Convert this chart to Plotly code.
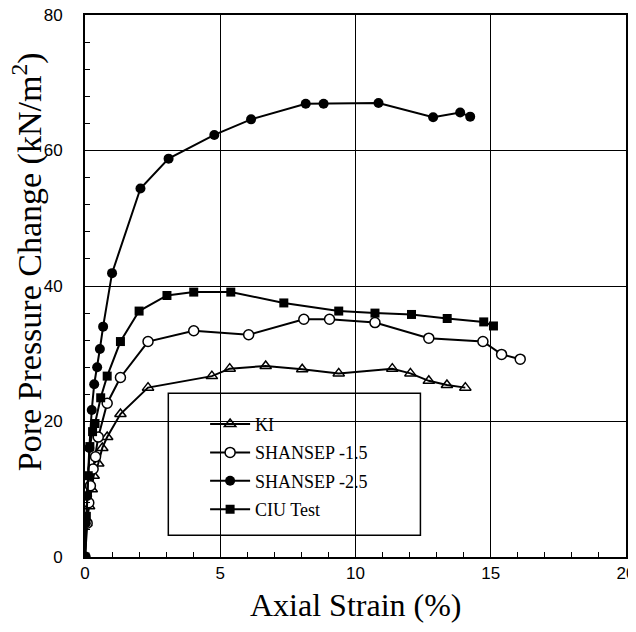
import plotly.graph_objects as go

ki_x = [0, 0.05, 0.15, 0.25, 0.32, 0.49, 0.64, 0.82, 1.31, 2.33, 4.69, 5.35, 6.68, 8.03, 9.38, 11.36, 12.03, 12.71, 13.38, 14.06]
ki_y = [0, 5, 7.5, 10, 12, 13.8, 16.1, 17.7, 21.1, 25.0, 26.7, 27.8, 28.2, 27.7, 27.1, 27.8, 27.1, 26.0, 25.4, 25.0]

s15_x = [0, 0.08, 0.14, 0.2, 0.3, 0.39, 0.49, 0.82, 1.31, 2.33, 4.02, 6.05, 8.09, 9.04, 10.72, 12.71, 14.71, 15.4, 16.09]
s15_y = [0, 5, 8, 10.5, 13, 14.8, 17.7, 22.7, 26.5, 31.8, 33.4, 32.8, 35.1, 35.1, 34.6, 32.3, 31.8, 29.9, 29.2]

s25_x = [0, 0.03, 0.08, 0.16, 0.25, 0.34, 0.45, 0.55, 0.67, 1.0, 2.05, 3.09, 4.78, 6.14, 8.16, 8.82, 10.85, 12.87, 13.87, 14.24]
s25_y = [0, 5, 9, 16.1, 21.7, 25.5, 28, 30.7, 34.0, 41.9, 54.4, 58.8, 62.3, 64.6, 66.9, 66.9, 67.0, 64.9, 65.6, 65.0]

ciu_x = [0, 0.05, 0.12, 0.18, 0.28, 0.37, 0.58, 0.82, 1.31, 2.0, 3.03, 4.02, 5.39, 7.35, 9.38, 10.72, 12.07, 13.39, 14.74, 15.1]
ciu_y = [0, 6, 12, 16.3, 18.5, 19.7, 23.5, 26.7, 31.8, 36.3, 38.6, 39.1, 39.1, 37.5, 36.3, 36.0, 35.8, 35.2, 34.7, 34.1]

names = ["KI", "SHANSEP -1.5", "SHANSEP -2.5", "CIU Test"]
x_title = "Axial Strain (%)"
y_title = "Pore Pressure Change (kN/m<sup>2</sup>)"

fig = go.Figure()
line = dict(color="black", width=2)
fig.add_trace(go.Scatter(x=ki_x, y=ki_y, name=names[0], legendgroup="a", mode="lines+markers", line=line,
                         marker=dict(symbol="triangle-up-open", size=10, color="black", line=dict(width=1.5))))
fig.add_trace(go.Scatter(x=s15_x, y=s15_y, name=names[1], legendgroup="b", mode="lines+markers", line=line,
                         marker=dict(symbol="circle", size=10, color="white", line=dict(color="black", width=1.5))))
fig.add_trace(go.Scatter(x=s25_x, y=s25_y, name=names[2], legendgroup="c", mode="lines+markers", line=line,
                         marker=dict(symbol="circle", size=10, color="black")))
fig.add_trace(go.Scatter(x=ciu_x, y=ciu_y, name=names[3], legendgroup="d", mode="lines+markers", line=line,
                         marker=dict(symbol="square", size=9, color="black")))

fig.add_shape(type="rect", xref="paper", yref="paper", x0=0.154, x1=0.62, y0=0.04, y1=0.302,
              line=dict(color="black", width=1.5), fillcolor="white", layer="below")

fig.add_annotation(text=x_title, xref="paper", yref="paper", x=0.5, y=-0.089, xanchor="center", yanchor="middle",
                   showarrow=False, font=dict(family="Liberation Serif", size=32, color="black"))
fig.add_annotation(text=y_title, xref="paper", yref="paper", x=-0.106, y=0.545, xanchor="center", yanchor="middle",
                   textangle=-90, showarrow=False, font=dict(family="Liberation Serif", size=34, color="black"))

fig.update_layout(
    width=628, height=624,
    margin=dict(l=77, r=10, t=7, b=75),
    plot_bgcolor="white", paper_bgcolor="white",
    showlegend=True,
    legend=dict(x=0.222, y=0.279, xanchor="left", yanchor="top", bgcolor="rgba(0,0,0,0)",
                font=dict(family="Liberation Serif", size=18, color="black"),
                tracegroupgap=2, itemwidth=40),
    xaxis=dict(range=[0, 20], dtick=5, showgrid=True, gridcolor="black", gridwidth=1,
               showline=True, linecolor="black", linewidth=2, mirror=True, automargin=False,
               ticks="inside", ticklen=6, tickcolor="black", zeroline=False, ticklabeloverflow="allow",
               minor=dict(dtick=1, ticks="inside", ticklen=5, tickcolor="black", showgrid=False),
               tickfont=dict(family="Liberation Sans", size=17, color="black")),
    yaxis=dict(range=[0, 80], dtick=20, showgrid=True, gridcolor="black", gridwidth=1,
               showline=True, linecolor="black", linewidth=2, mirror=True, automargin=False,
               ticks="inside", ticklen=6, tickcolor="black", zeroline=False, ticklabelstandoff=17,
               ticklabeloverflow="allow",
               minor=dict(dtick=4, ticks="inside", ticklen=5, tickcolor="black", showgrid=False),
               tickfont=dict(family="Liberation Sans", size=17, color="black")),
)

fig.write_html("out.html")
